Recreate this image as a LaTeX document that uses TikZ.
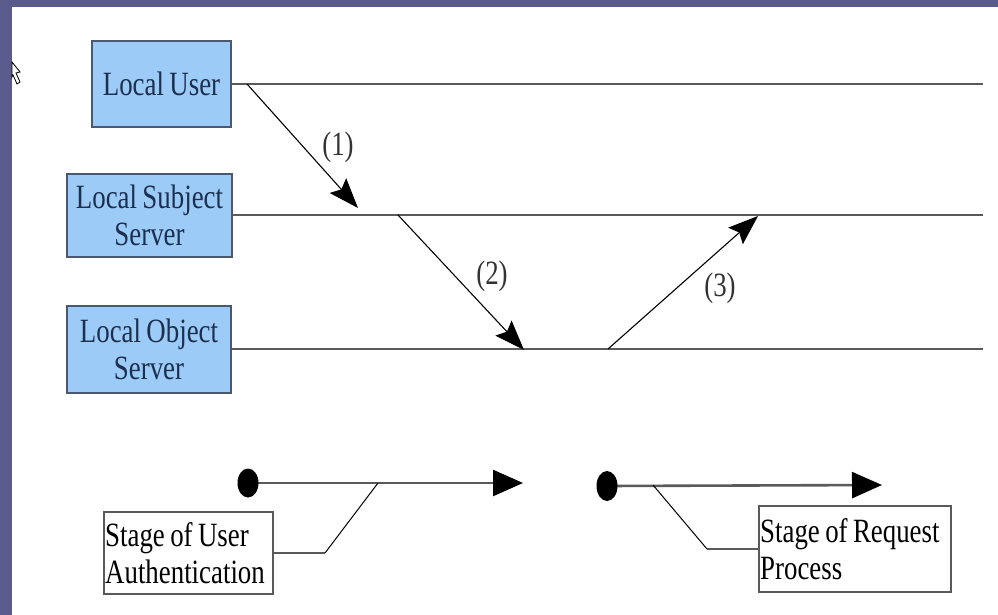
\documentclass[tikz,border=0pt]{standalone}
\usepackage{fontspec}
\setmainfont{Liberation Serif}[FakeStretch=0.79, WordSpace=0.8]
\usetikzlibrary{arrows.meta}
\definecolor{slidebg}{HTML}{5B5A8C}
\definecolor{boxfill}{HTML}{9DCBF8}
\definecolor{boxline}{HTML}{4A5870}
\definecolor{boxtext}{HTML}{1B2F4F}
\definecolor{lifegray}{HTML}{5A5A5A}
\tikzset{
  actor/.style={draw=boxline, line width=2pt, fill=boxfill, text=boxtext, align=center,
    font=\fontsize{34}{37}\selectfont, inner sep=0pt},
  lifeline/.style={draw=lifegray, line width=2.6pt},
  msg/.style={draw=black, line width=1.1pt, -{Stealth[length=30pt, width=22pt, inset=5pt]}},
  numlabel/.style={font=\fontsize{34}{37}\selectfont, text=black!80},
  stagebox/.style={draw=lifegray, line width=2pt, fill=white, inner sep=0pt, anchor=center},
  stagetext/.style={align=left, font=\fontsize{34}{37}\selectfont, inner sep=0pt, anchor=west},
  stagearrow/.style={draw=lifegray, line width=2.6pt, -{Triangle[length=30pt, width=26pt, color=black]}},
  leader/.style={draw=black, line width=1pt},
  leaderh/.style={draw=lifegray, line width=2.4pt},
}
\begin{document}
\begin{tikzpicture}[x=1pt, y=-1pt]
% slide background and white area
\fill[slidebg] (0,0) rectangle (998,615);
\fill[white] (12,7) rectangle (998,615);
\useasboundingbox (0,0) rectangle (998,615);
% mouse cursor (partially visible)
\draw[black, line width=0.8pt, fill=white] (12,62) -- (20,72) -- (16,73) -- (20,82) -- (17,84) -- (13,75) -- (12,77) -- cycle;

% actor boxes
\node[actor, minimum width=139pt, minimum height=86pt] (user) at (161.5,84) {Local User};
\node[actor, minimum width=165pt, minimum height=83pt] (subj) at (149.5,215) {Local Subject\\Server};
\node[actor, minimum width=164pt, minimum height=87pt] (obj) at (149,349) {Local Object\\Server};

% lifeline ends
\coordinate (userEnd) at (983,84);
\coordinate (subjEnd) at (983,215);
\coordinate (objEnd) at (983,349);
\draw[lifeline] (user.east) -- (userEnd);
\draw[lifeline] (subj.east) -- (subjEnd);
\draw[lifeline] (obj.east) -- (objEnd);

% messages
\coordinate (m1s) at (247,84);
\coordinate (m1e) at (358,208);
\coordinate (m2s) at (398,215);
\coordinate (m2e) at (524,350);
\coordinate (m3s) at (608,349);
\coordinate (m3e) at (758,216);
\draw[msg] (m1s) -- (m1e);
\draw[msg] (m2s) -- (m2e);
\draw[msg] (m3s) -- (m3e);
\node[numlabel] (l1) at (338,147) {(1)};
\node[numlabel] (l2) at (492,276) {(2)};
\node[numlabel] (l3) at (720,288) {(3)};

% stage arrows
\coordinate (d1) at (248,483);
\coordinate (s1e) at (523,483);
\draw[stagearrow] (d1) -- (s1e);
\fill[black] (d1) ellipse [x radius=10.5pt, y radius=14.5pt];
\coordinate (d2) at (607,486);
\coordinate (s2e) at (882,485);
\draw[stagearrow] (d2) -- (s2e);
\fill[black] (d2) ellipse [x radius=10.5pt, y radius=15pt];

% stage labels
\node[stagebox, minimum width=169pt, minimum height=82pt] (st1) at (188.5,553) {};
\node[stagetext] (st1t) at ([xshift=2pt]st1.west) {Stage of User\\Authentication};
\node[stagebox, minimum width=192pt, minimum height=86pt] (st2) at (855,549) {};
\node[stagetext] (st2t) at ([xshift=2pt]st2.west) {Stage of Request\\Process};

% leaders
\coordinate (k1) at (325,553);
\coordinate (k1t) at (378,483);
\draw[leaderh] (st1.east) -- (k1);
\draw[leader] (k1) -- (k1t);
\coordinate (k2) at (707,549);
\coordinate (k2t) at (653,485);
\draw[leaderh] (st2.west) -- (k2);
\draw[leader] (k2) -- (k2t);
\end{tikzpicture}
\end{document}
